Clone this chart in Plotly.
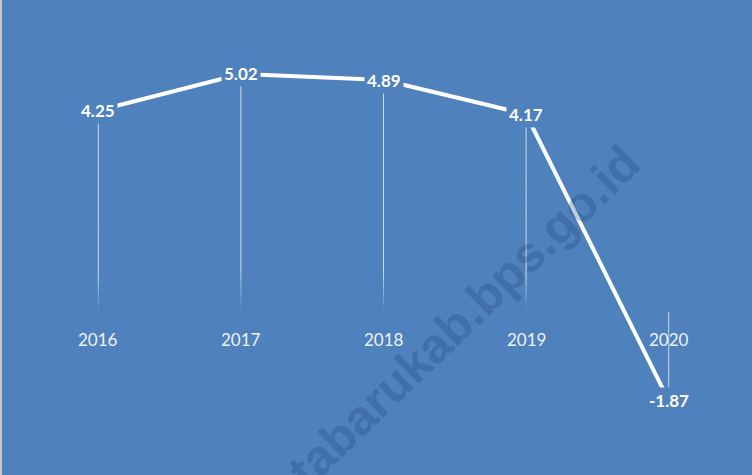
import plotly.graph_objects as go

years = ["2016", "2017", "2018", "2019", "2020"]
growth = [4.25, 5.02, 4.89, 4.17, -1.87]
value_labels = ["4.25", "5.02", "4.89", "4.17", "-1.87"]
watermark = "tabarukab.bps.go.id"

BG = "#4f81bd"
ML, MR = 27, 12
PW = 752 - ML - MR
fig = go.Figure()

# main line
fig.add_trace(go.Scatter(
    x=list(range(len(years))), y=growth, mode="lines",
    line=dict(color="white", width=4), hoverinfo="skip", showlegend=False,
))

# drop lines with fade toward the bottom
shapes = []
N = 30
for i, v in enumerate(growth):
    hi, lo = max(v, 0), min(v, 0)
    for k in range(N):
        t0 = k / N
        t1 = (k + 1) / N
        ya = hi - (hi - lo) * t0
        yb = hi - (hi - lo) * t1
        tm = (t0 + t1) / 2
        op = 0.72 * min(1.0, (1 - tm) / 0.18)
        shapes.append(dict(type="line", xref="x", yref="y", x0=i, x1=i, y0=ya, y1=yb,
                           line=dict(color="rgba(255,255,255,%.3f)" % op, width=1), layer="below"))

# left frame edge
shapes.append(dict(type="line", xref="paper", yref="paper", x0=(1 - ML) / PW, x1=(1 - ML) / PW,
                   y0=0, y1=1, line=dict(color="#c8c8c8", width=2)))

annotations = []
for i, (y, lab) in enumerate(zip(growth, value_labels)):
    annotations.append(dict(x=i, y=y, xref="x", yref="y", text="<b>%s</b>" % lab,
                            showarrow=False, bgcolor=BG, borderpad=2,
                            font=dict(family="Lato", size=17, color="white")))
for i, yr in enumerate(years):
    annotations.append(dict(x=i, y=0, xref="x", yref="y", text=yr, showarrow=False,
                            yshift=-28, font=dict(family="Lato", size=17, color="#eef2f8")))
annotations.append(dict(x=(464 - ML) / PW, y=1 - 316 / 475, xref="paper", yref="paper",
                        xanchor="center", yanchor="middle",
                        text="<b>%s</b>" % watermark, showarrow=False, textangle=-44,
                        font=dict(family="Liberation Sans", size=49, color="rgba(25,60,115,0.26)")))

fig.update_layout(
    width=752, height=475,
    margin=dict(l=ML, r=MR, t=0, b=0),
    paper_bgcolor=BG, plot_bgcolor=BG,
    xaxis=dict(range=[-0.5, 4.5], visible=False, fixedrange=True),
    yaxis=dict(range=[-3.44, 6.58], visible=False, fixedrange=True),
    shapes=shapes, annotations=annotations, showlegend=False,
)

fig.write_html("out.html", config={"displayModeBar": False},
               post_script="document.body.style.margin='0';document.body.style.background='%s';" % BG)
